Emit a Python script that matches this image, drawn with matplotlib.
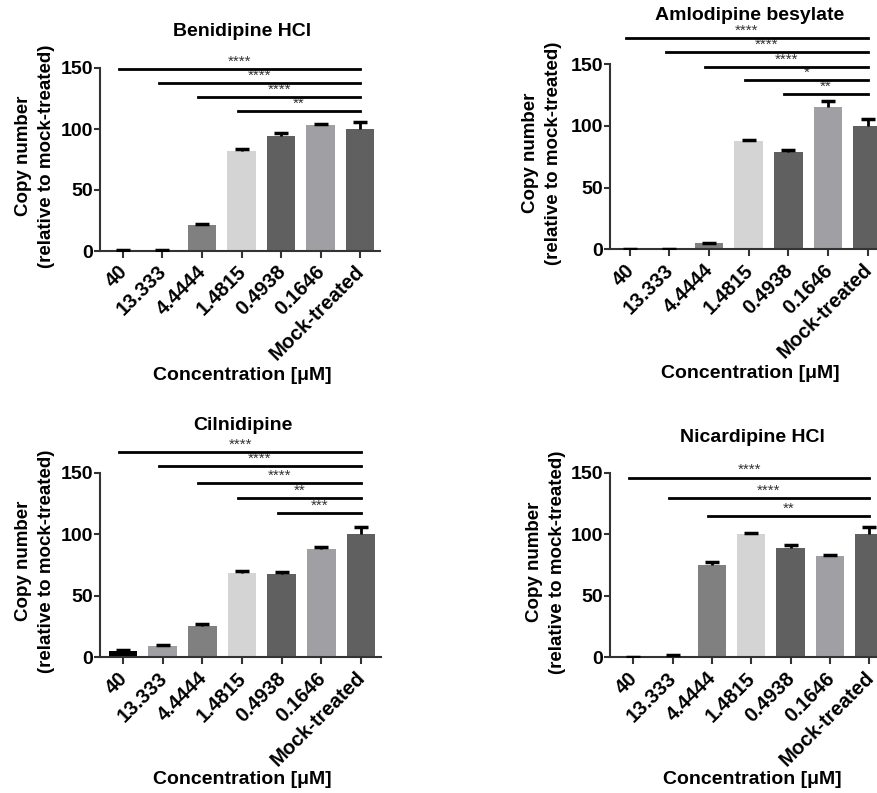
import matplotlib
matplotlib.use('Agg')
import matplotlib.pyplot as plt
import numpy as np

plt.rcParams['font.family'] = ['Liberation Sans', 'DejaVu Sans']

# data
categories = ['40', '13.333', '4.4444', '1.4815', '0.4938', '0.1646', 'Mock-treated']
bar_colors = ['#000000', '#a0a0a4', '#808080', '#d4d4d4', '#606060', '#a0a0a4', '#606060']

titles = ['Benidipine HCl', 'Amlodipine besylate', 'Cilnidipine', 'Nicardipine HCl']

beni_mean = [0.5, 0.3, 21.3, 82, 94.5, 103, 100]
beni_err = [0.3, 0.2, 1, 1.5, 2.5, 1.5, 6]
amlo_mean = [0, 0, 5, 87.5, 78.5, 115.5, 100]
amlo_err = [0, 0, 0.5, 1, 2, 5, 6]
ciln_mean = [5.4, 9.2, 25.7, 68.2, 68, 88, 100]
ciln_err = [0.3, 0.8, 1, 2, 1, 2, 6]
nica_mean = [0, 1.4, 75, 100, 89, 82, 100]
nica_err = [0, 0.3, 2.7, 1.3, 2, 1, 6]

# significance brackets: start bar, height, stars (all end at mock-treated)
beni_sig_start = [0, 1, 2, 3]
beni_sig_y = [149, 137.5, 126, 115]
beni_sig_lab = ['****', '****', '****', '**']
amlo_sig_start = [0, 1, 2, 3, 4]
amlo_sig_y = [171.6, 160.2, 148, 137.3, 125.7]
amlo_sig_lab = ['****', '****', '****', '*', '**']
ciln_sig_start = [0, 1, 2, 3, 4]
ciln_sig_y = [167, 155.6, 141.8, 129.7, 117]
ciln_sig_lab = ['****', '****', '****', '**', '***']
nica_sig_start = [0, 1, 2]
nica_sig_y = [146, 129.7, 114.7]
nica_sig_lab = ['****', '****', '**']

W, H = 877, 793
fig = plt.figure(figsize=(W / 100, H / 100), dpi=100)


def px_axes(left, top, right, bottom):
    return fig.add_axes([left / W, 1 - bottom / H, (right - left) / W, (bottom - top) / H])


# axes boxes in pixels: left, top(150), right, bottom(0), xlim left
panels = [
    (100, 68, 380, 251, -0.58, beni_mean, beni_err, beni_sig_start, beni_sig_y, beni_sig_lab,
     (242, 31), (35, 156), (242, 375)),
    (610, 64.3, 887.5, 249.3, -0.5, amlo_mean, amlo_err, amlo_sig_start, amlo_sig_y, amlo_sig_lab,
     (750, 15), (542, 153), (750, 374)),
    (100, 472.7, 381, 657.3, -0.58, ciln_mean, ciln_err, ciln_sig_start, ciln_sig_y, ciln_sig_lab,
     (243, 425), (35, 561), (242, 780)),
    (610, 472.7, 889, 657.3, -0.59, nica_mean, nica_err, nica_sig_start, nica_sig_y, nica_sig_lab,
     (752, 437), (546, 562), (752, 779)),
]

for i, (l, t, r, b, x0, mean, err, s_start, s_y, s_lab, tpos, ypos, xpos) in enumerate(panels):
    ax = px_axes(l, t, r, b)
    x = np.arange(len(categories))
    ax.bar(x, mean, width=0.72, color=bar_colors, edgecolor='none', zorder=2)
    eb = ax.errorbar(x, mean, yerr=[np.zeros(len(err)), err], fmt='none', ecolor='black',
                     elinewidth=2, capsize=5, capthick=2.5, zorder=3)
    eb[1][0].set_visible(False)  # hide lower caps
    ax.set_xlim(x0, 6.5)
    ax.set_ylim(0, 150)
    ax.set_yticks([0, 50, 100, 150])
    ax.set_xticks(x)
    ax.set_xticklabels([])
    # rotated category labels, anchored just under each tick
    for xi, cat in zip(x, categories):
        ax.annotate(cat, xy=(xi, 0), xycoords=('data', 'axes fraction'),
                    xytext=(-3.8, -8), textcoords='offset points',
                    rotation=45, ha='right', va='top', rotation_mode='anchor',
                    fontsize=14.5, fontweight='bold', annotation_clip=False)
    for lab in ax.get_yticklabels():
        lab.set_fontsize(14)
        lab.set_fontweight('bold')
    for side in ['top', 'right']:
        ax.spines[side].set_visible(False)
    for side in ['left', 'bottom']:
        ax.spines[side].set_linewidth(1.5)
        ax.spines[side].set_color('#333333')
    ax.tick_params(axis='x', direction='out', length=5, width=1.5, color='#333333', pad=2)
    ax.tick_params(axis='y', direction='out', length=4, width=1.5, color='#333333', pad=1)
    ax.patch.set_visible(False)

    # significance lines
    for st, yy, lab in zip(s_start, s_y, s_lab):
        ax.plot([st - 0.1, 6.0], [yy, yy], color='black', lw=2, clip_on=False, zorder=4)
        ax.text((st - 0.1 + 6.0) / 2, yy + 0.3, lab, ha='center', va='bottom',
                fontsize=11, color='#333333', clip_on=False)

    fig.text(tpos[0] / W, 1 - tpos[1] / H, titles[i], ha='center', va='center',
             fontsize=14, fontweight='bold')
    fig.text(ypos[0] / W, 1 - ypos[1] / H, 'Copy number\n(relative to mock-treated)',
             ha='center', va='center', rotation=90, fontsize=13.5, fontweight='bold',
             multialignment='center', linespacing=1.45)
    fig.text(xpos[0] / W, 1 - xpos[1] / H, 'Concentration [\u03bcM]', ha='center', va='center',
             fontsize=14, fontweight='bold')

fig.savefig('out.png', dpi=100)
